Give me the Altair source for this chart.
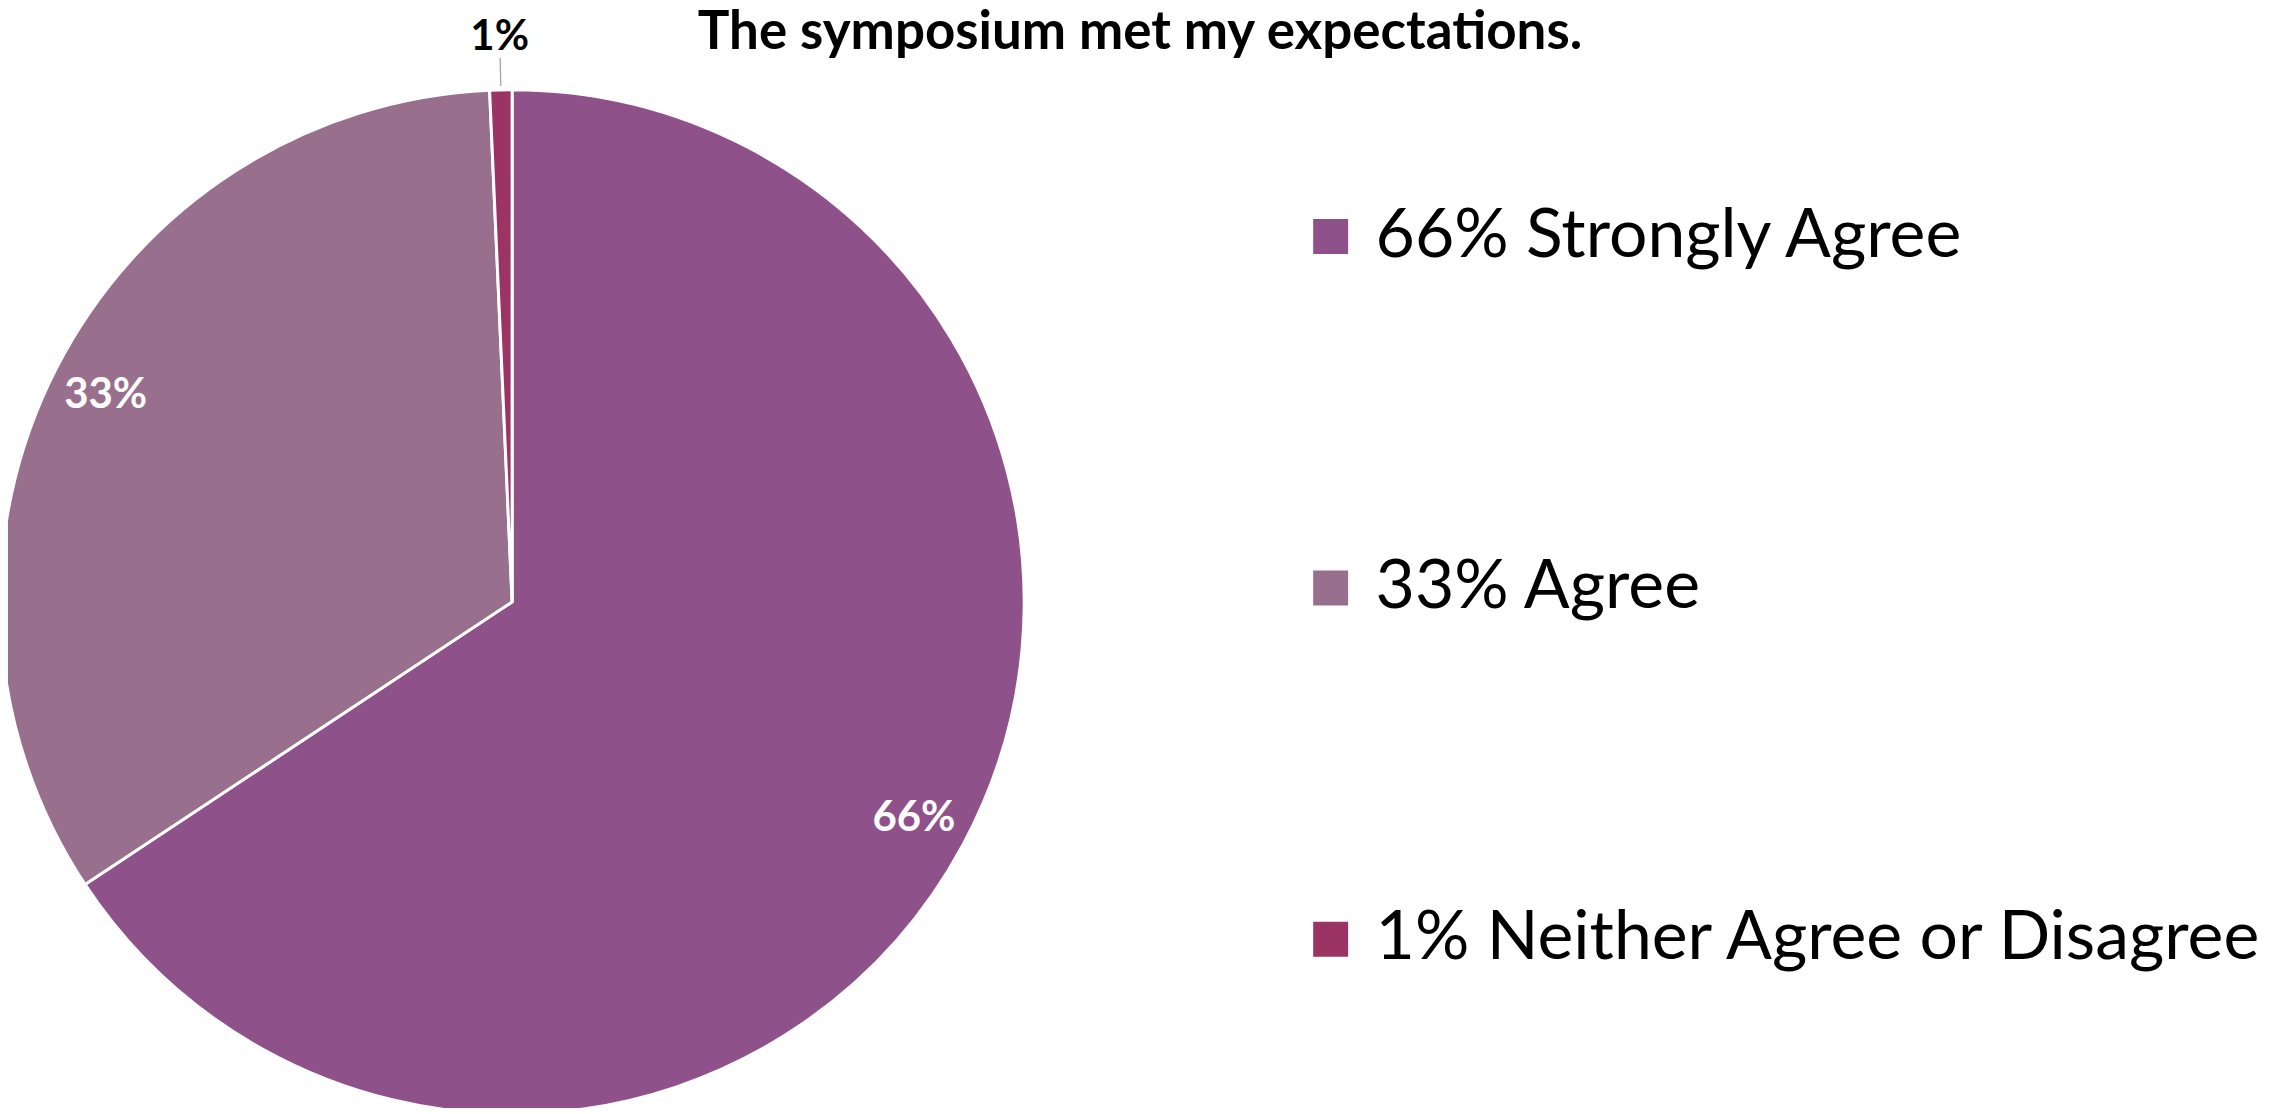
import math
import altair as alt
import pandas as pd

# ---- data ----
categories = ["66% Strongly Agree", "33% Agree", "1% Neither Agree or Disagree"]
values = [65.7, 33.6, 0.7]
slice_labels = ["66%", "33%", "1%"]
order = [1, 2, 3]
colors = ["#8F518A", "#98708D", "#9B3465"]
title_text = "The symposium met my expectations."

df = pd.DataFrame({"cat": categories, "v": values, "lab": slice_labels, "o": order})

CX, CY = 505, 594   # pie centre inside the view
R = 513

theta_scale = alt.Scale(domain=[0, 100], range=[0, 2 * math.pi])

base = (
    alt.Chart(df)
    .transform_window(cum="sum(v)", sort=[alt.SortField("o")], frame=[None, 0])
    .transform_calculate(t0="datum.cum - datum.v", t1="datum.cum",
                         mid="datum.cum - datum.v / 2")
)

arcs = base.mark_arc(outerRadius=R, stroke="white", strokeWidth=3).encode(
    theta=alt.Theta("t0:Q", scale=theta_scale),
    theta2="t1:Q",
    color=alt.Color(
        "cat:N",
        scale=alt.Scale(domain=categories, range=colors),
        sort=categories,
        legend=alt.Legend(
            title=None, orient="none", legendX=1291, legendY=194,
            symbolType="square", symbolSize=1225, symbolStrokeWidth=0,
            symbolOpacity=1, labelFontSize=68, labelFont="Lato",
            labelColor="black", rowPadding=284, labelOffset=11,
            padding=0, labelLimit=1200,
        ),
    ),
    x=alt.value(CX),
    y=alt.value(CY),
)

inner_labels = base.transform_filter("datum.o <= 2").mark_text(
    radius=457, font="Lato", fontWeight="bold", fontSize=42, color="white",
    align="center", baseline="middle",
).encode(
    theta=alt.Theta("mid:Q", scale=theta_scale),
    text="lab:N",
    x=alt.value(CX),
    y=alt.value(CY),
)

outer_label = base.transform_filter("datum.o == 3").mark_text(
    radius=566, font="Lato", fontWeight="bold", fontSize=42, color="black",
    align="center", baseline="middle",
).encode(
    theta=alt.Theta("mid:Q", scale=theta_scale),
    text="lab:N",
    x=alt.value(CX),
    y=alt.value(CY),
)

leader = (
    base.transform_filter("datum.o == 3")
    .transform_calculate(l0="datum.mid - 0.02", l1="datum.mid + 0.02")
    .mark_arc(radius=545, radius2=517, color="#A6A6A6")
    .encode(
        theta=alt.Theta("l0:Q", scale=theta_scale),
        theta2="l1:Q",
        x=alt.value(CX),
        y=alt.value(CY),
    )
)

title = alt.Chart(pd.DataFrame({"t": [title_text]})).mark_text(
    font="Lato", fontWeight="bold", fontSize=53, color="black",
    align="center", baseline="alphabetic",
).encode(text="t:N", x=alt.value(1134), y=alt.value(40))

chart = (
    alt.layer(arcs, leader, inner_labels, outer_label, title)
    .properties(width=2260, height=1100, padding=0,
                autosize=alt.AutoSizeParams(type="none"))
    .configure_view(stroke=None)
)

chart.save("out.html", embed_options={"renderer": "svg", "actions": False})
